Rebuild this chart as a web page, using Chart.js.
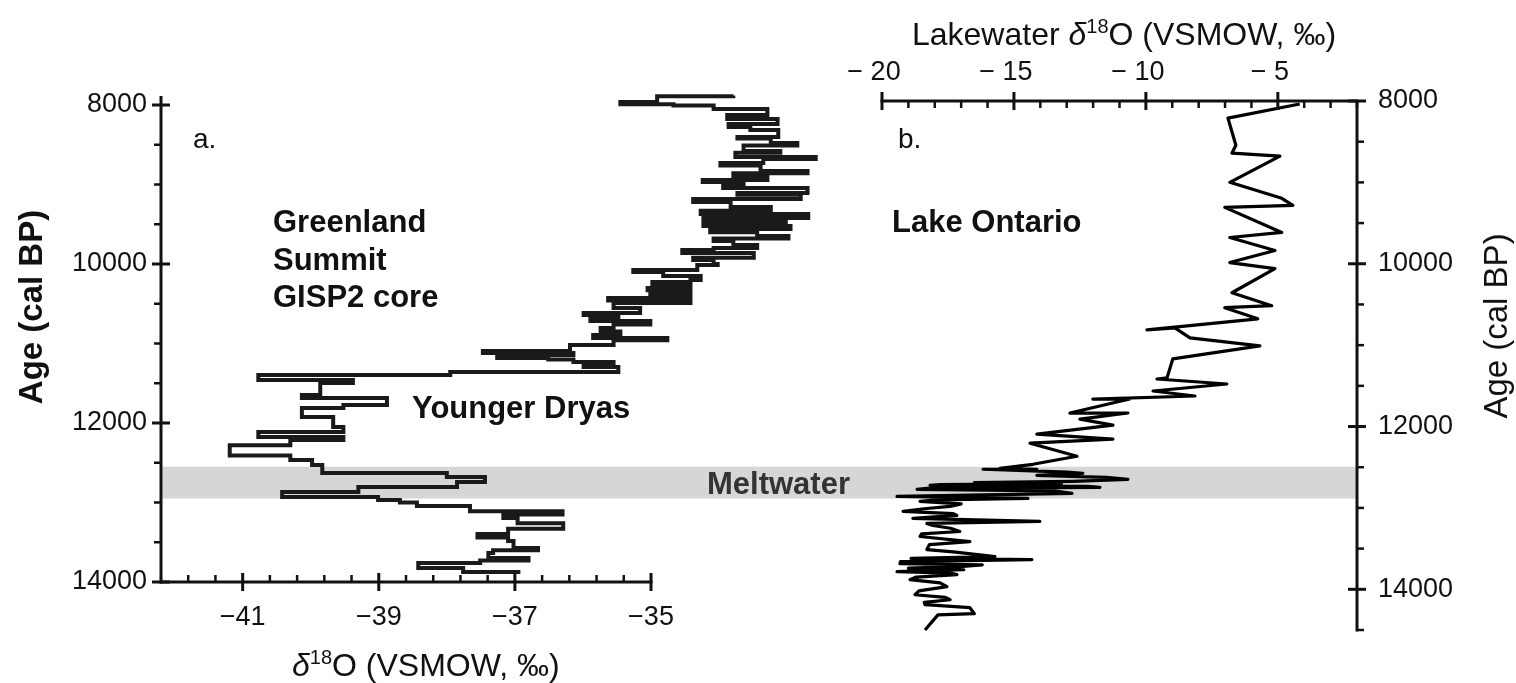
<!DOCTYPE html>
<html>
<head>
<meta charset="utf-8">
<script src="https://cdn.jsdelivr.net/npm/chart.js@4.4.1/dist/chart.umd.min.js"></script>
<style>
  html, body { margin: 0; padding: 0; background: #fff; }
  #wrap { position: relative; width: 1516px; height: 683px; overflow: hidden; }
  #wrapA { position: absolute; left: 0; top: 0; width: 1516px; height: 683px; }
  #wrapB { position: absolute; left: 820px; top: 0; width: 696px; height: 683px; }
</style>
</head>
<body>
<div id="wrap">
  <div id="wrapA"><canvas id="chartA" width="1516" height="683"></canvas></div>
  <div id="wrapB"><canvas id="chartB" width="696" height="683"></canvas></div>
</div>
<script>
// ---- data: GISP2 ice core (panel a), age in cal BP / d18O permil
const gispAge = [7880, 7890, 7962, 7990, 8005, 8050, 8126, 8176, 8240, 8277, 8314, 8403, 8420, 8478, 8510,
  8579, 8600, 8654, 8680, 8730, 8760, 8830, 8860, 8893, 8944, 8970, 9019, 9044, 9107, 9130, 9183, 9220, 9283,
  9330, 9371, 9420, 9447, 9490, 9522, 9560, 9600, 9648, 9680, 9711, 9761, 9800, 9824, 9862, 9920, 9950, 10000,
  10013, 10075, 10100, 10151, 10200, 10227, 10260, 10302, 10330, 10365, 10400, 10428, 10460, 10491, 10554,
  10617, 10640, 10667, 10717, 10760, 10805, 10850, 10893, 10931, 10960, 11019, 11095, 11120, 11145, 11183,
  11200, 11233, 11270, 11296, 11359, 11397, 11460, 11497, 11648, 11686, 11774, 11812, 11925, 12051, 12114,
  12177, 12214, 12280, 12410, 12466, 12529, 12629, 12680, 12743, 12806, 12868, 12931, 12969, 13000, 13044,
  13110, 13150, 13196, 13260, 13330, 13397, 13440, 13485, 13573, 13600, 13636, 13699, 13730, 13761, 13825, 13875];
const gispD18O = [-33.79, -34.91, -35.45, -34.67, -34.08, -33.29, -33.88, -33.14, -33.86, -33.54, -33.13, -33.73,
  -33.24, -32.85, -33.64, -33.10, -33.76, -32.58, -33.35, -33.98, -33.39, -32.70, -33.79, -33.29, -34.24, -33.64,
  -33.94, -32.70, -33.73, -32.80, -34.38, -33.83, -33.24, -34.27, -32.69, -34.23, -33.02, -34.23, -32.95, -34.13,
  -33.44, -32.98, -34.08, -33.79, -33.44, -34.08, -34.54, -33.49, -34.38, -34.08, -34.02, -34.32, -35.26, -34.82,
  -34.27, -34.42, -34.98, -34.42, -35.05, -34.42, -35.01, -34.42, -35.63, -34.42, -35.55, -35.16, -35.99, -35.48,
  -35.89, -35.01, -35.55, -35.74, -35.45, -35.85, -34.76, -35.55, -36.19, -37.47, -36.14, -37.26, -36.51, -36.14,
  -35.55, -35.99, -35.48, -37.95, -40.77, -39.38, -39.86, -40.13, -38.88, -39.52, -40.13, -39.67, -39.52, -40.77,
  -39.52, -40.30, -41.19, -40.30, -39.98, -39.83, -38.00, -37.44, -37.85, -39.30, -40.42, -39.01, -38.69, -38.44,
  -37.66, -36.30, -37.17, -36.96, -36.29, -37.10, -37.55, -37.10, -37.02, -36.66, -37.32, -37.39, -36.80, -37.51,
  -38.42, -37.76, -36.92];

// ---- data: Lake Ontario lakewater (panel b)
const ontAge = [8037, 8210, 8543, 8641, 8678, 8999, 9196, 9282, 9307, 9615, 9677, 9837, 9985, 10059, 10356, 10515,
  10540, 10676, 10812, 10787, 10910, 11009, 11169, 11403, 11416, 11477, 11563, 11625, 11662, 11662, 11834, 11834,
  11909, 11983, 12094, 12155, 12205, 12365, 12464, 12513, 12525, 12525, 12560, 12575, 12599, 12625, 12649, 12673,
  12690, 12700, 12712, 12722, 12735, 12747, 12760, 12772, 12790, 12821, 12858, 12883, 12900, 12920, 12950, 12981,
  13010, 13043, 13070, 13092, 13129, 13166, 13190, 13216, 13250, 13290, 13320, 13351, 13413, 13450, 13512, 13540,
  13598, 13620, 13635, 13660, 13684, 13700, 13721, 13740, 13760, 13783, 13800, 13820, 13850, 13882, 13920, 13968,
  14020, 14067, 14100, 14128, 14160, 14189, 14226, 14300, 14314, 14500];
const ontD18O = [-4.17, -6.89, -6.59, -6.74, -4.92, -6.82, -4.85, -4.43, -7.01, -4.85, -6.82, -5.11, -6.82, -5.11,
  -6.74, -5.23, -7.01, -5.76, -9.96, -8.90, -8.33, -5.68, -8.98, -9.20, -9.58, -6.93, -9.73, -8.14, -12.01, -10.61,
  -12.88, -10.68, -12.50, -11.25, -14.13, -11.25, -14.39, -12.61, -14.28, -15.53, -14.13, -16.17, -13.00, -12.39,
  -14.13, -11.50, -10.68, -12.77, -16.50, -13.20, -17.80, -18.18, -12.20, -11.74, -18.30, -18.67, -13.50, -12.80,
  -19.43, -14.47, -17.90, -18.56, -17.00, -17.42, -18.40, -19.20, -17.30, -17.16, -18.83, -14.02, -18.30, -18.07,
  -17.40, -17.05, -18.50, -18.56, -16.67, -18.20, -18.30, -17.30, -15.72, -18.90, -14.32, -19.30, -19.32, -16.20,
  -17.05, -19.00, -16.90, -19.43, -17.40, -17.16, -18.70, -18.94, -17.80, -17.54, -18.60, -18.75, -17.60, -17.42,
  -18.40, -18.37, -16.67, -16.50, -17.88, -18.37];

// ---- ticks and band
const ageLabelTicks = [8000, 10000, 12000, 14000];
const ageMinorTicksA = [8500, 9000, 9500, 10500, 11000, 11500, 12500, 13000, 13500];
const ageMinorTicksB = [8500, 9000, 9500, 10500, 11000, 11500, 12500, 13000, 13500, 14500];
const gispLabelTicks = [-41, -39, -37, -35];
const gispMinorTicks = [-41.8, -41.4, -40.6, -40.2, -39.8, -39.4, -38.6, -38.2, -37.8, -37.4, -36.6, -36.2, -35.8, -35.4];
const lakeLabelTicks = [-20, -15, -10, -5];
const lakeMinorTicks = [-19, -18, -17, -16, -14, -13, -12, -11, -9, -8, -7, -6, -4, -3, -2];
const meltwaterBand = [12550, 12950];

const FONT = '"Liberation Sans", Arial, Helvetica, sans-serif';
Chart.defaults.font.family = FONT;
Chart.defaults.color = '#111';

function pts(ages, vals) {
  return ages.map((a, i) => ({ x: vals[i], y: a }));
}

// axis lines + major/minor tick marks, placed through the chart scales
function drawAxis(chart, id, majors, minors) {
  const s = chart.scales[id], ctx = chart.ctx, a = chart.chartArea;
  ctx.save();
  ctx.strokeStyle = '#111';
  const seg = (x1, y1, x2, y2, w) => { ctx.lineWidth = w; ctx.beginPath(); ctx.moveTo(x1, y1); ctx.lineTo(x2, y2); ctx.stroke(); };
  if (s.isHorizontal()) {
    const y = s.position === 'bottom' ? a.bottom : a.top;
    const dir = s.position === 'bottom' ? -1 : 1;
    seg(a.left - 1.5, y, a.right + 1.5, y, 3);
    majors.forEach(v => { const x = s.getPixelForValue(v); seg(x, y - 9, x, y + 9, 3); });
    minors.forEach(v => { const x = s.getPixelForValue(v); seg(x, y, x, y + dir * 7, 2.5); });
  } else {
    const x = s.position === 'left' ? a.left : a.right;
    const dir = s.position === 'left' ? -1 : 1;
    const top = s.position === 'left' ? a.top - 9 : a.top;
    seg(x, top, x, a.bottom + 1.5, 3);
    majors.forEach(v => { const y = s.getPixelForValue(v); seg(x - 9, y, x + 9, y, 3); });
    minors.forEach(v => { const y = s.getPixelForValue(v); seg(x, y, x + dir * 7, y, 2.5); });
  }
  ctx.restore();
}

// text with a superscript part
function drawRich(ctx, parts, x, y, size, weight, align) {
  const fontOf = p => (p.italic ? 'italic ' : '') + weight + ' ' + (p.sup ? Math.round(size * 0.62) : size) + 'px ' + FONT;
  let total = 0;
  parts.forEach(p => { ctx.font = fontOf(p); total += ctx.measureText(p.t).width; });
  let cx = align === 'center' ? x - total / 2 : x;
  ctx.textAlign = 'left';
  ctx.textBaseline = 'alphabetic';
  parts.forEach(p => {
    ctx.font = fontOf(p);
    ctx.fillText(p.t, cx, y - (p.sup ? size * 0.36 : 0));
    cx += ctx.measureText(p.t).width;
  });
}

// grey meltwater band, drawn once across both panels (panel a canvas spans the page)
const bandPlugin = {
  id: 'band',
  beforeDatasetsDraw(chart, args, opts) {
    const y = chart.scales.y, ctx = chart.ctx, a = chart.chartArea;
    const y1 = y.getPixelForValue(meltwaterBand[0]), y2 = y.getPixelForValue(meltwaterBand[1]);
    ctx.save();
    ctx.fillStyle = '#d6d6d6';
    ctx.fillRect(a.left + 1.5, y1, opts.to - a.left - 1.5, y2 - y1);
    ctx.restore();
  }
};

const decoPlugin = {
  id: 'deco',
  afterDatasetsDraw(chart, args, opts) {
    opts.axes.forEach(ax => drawAxis(chart, ax[0], ax[1], ax[2]));
    const ctx = chart.ctx;
    ctx.save();
    opts.texts.forEach(t => {
      ctx.fillStyle = t.color || '#111';
      if (t.rotate) {
        ctx.save();
        ctx.translate(t.x, t.y);
        ctx.rotate(-Math.PI / 2);
        drawRich(ctx, t.parts, 0, t.size * 0.36, t.size, t.weight, 'center');
        ctx.restore();
      } else {
        drawRich(ctx, t.parts, t.x, t.y, t.size, t.weight, t.align || 'left');
      }
    });
    ctx.restore();
  }
};

const tickFont = { size: 27 };
const noGrid = { display: false, drawTicks: false };

// ---- panel a: GISP2
new Chart(document.getElementById('chartA'), {
  type: 'line',
  data: {
    datasets: [
      { data: pts(gispAge, gispD18O), stepped: 'after', borderColor: '#1a1a1a', borderWidth: 4,
        pointRadius: 0, clip: false, fill: false },
      { data: pts(gispAge, gispD18O), stepped: 'after', borderColor: '#cfcfcf', borderWidth: 1.4,
        pointRadius: 0, clip: false, fill: false }
    ]
  },
  options: {
    responsive: false,
    animation: false,
    events: [],
    layout: { padding: { left: 0, top: 105, right: 865, bottom: 0 } },
    plugins: {
      legend: { display: false },
      tooltip: { enabled: false },
      band: { to: 1355.5 },
      deco: {
        axes: [['x', gispLabelTicks, gispMinorTicks], ['y', ageLabelTicks, ageMinorTicksA]],
        texts: [
          { parts: [{ t: 'a.' }], x: 193, y: 148, size: 28, weight: 'normal' },
          { parts: [{ t: 'Greenland' }], x: 273, y: 232, size: 31, weight: 'bold' },
          { parts: [{ t: 'Summit' }], x: 273, y: 270, size: 31, weight: 'bold' },
          { parts: [{ t: 'GISP2 core' }], x: 273, y: 307, size: 31, weight: 'bold' },
          { parts: [{ t: 'Younger Dryas' }], x: 412, y: 418, size: 31, weight: 'bold' },
          { parts: [{ t: 'Meltwater' }], x: 707, y: 494, size: 31, weight: 'bold', color: '#333' },
          { parts: [{ t: 'δ', italic: true }, { t: '18', sup: true }, { t: 'O (VSMOW, ‰)' }],
            x: 292, y: 676, size: 32, weight: 'normal' },
          { parts: [{ t: 'Age (cal BP)' }], x: 30, y: 307, size: 33, weight: 'bold', rotate: true }
        ]
      }
    },
    scales: {
      x: {
        type: 'linear', position: 'bottom', min: -42.2, max: -35,
        grid: noGrid, border: { display: false },
        afterFit: s => { s.height = 101; },
        afterBuildTicks: s => { s.ticks = gispLabelTicks.map(v => ({ value: v })); },
        ticks: { font: tickFont, padding: 19, autoSkip: false, maxRotation: 0,
          callback: v => '\u2212' + Math.abs(v) }
      },
      y: {
        type: 'linear', position: 'left', min: 8000, max: 14000, reverse: true,
        grid: noGrid, border: { display: false },
        afterFit: s => { s.width = 161; },
        afterBuildTicks: s => { s.ticks = ageLabelTicks.map(v => ({ value: v })); },
        ticks: { font: tickFont, padding: 14, autoSkip: false, callback: v => String(v) }
      }
    }
  },
  plugins: [bandPlugin, decoPlugin]
});

// ---- panel b: Lake Ontario
new Chart(document.getElementById('chartB'), {
  type: 'line',
  data: {
    datasets: [
      { data: pts(ontAge, ontD18O), borderColor: '#000', borderWidth: 3.2, borderJoinStyle: 'round',
        pointRadius: 0, tension: 0, clip: false, fill: false }
    ]
  },
  options: {
    responsive: false,
    animation: false,
    events: [],
    layout: { padding: { left: 62, top: 0, right: 0, bottom: 53 } },
    plugins: {
      legend: { display: false },
      tooltip: { enabled: false },
      deco: {
        axes: [['x', lakeLabelTicks, lakeMinorTicks], ['y', ageLabelTicks, ageMinorTicksB]],
        texts: [
          { parts: [{ t: 'b.' }], x: 78, y: 148, size: 28, weight: 'normal' },
          { parts: [{ t: 'Lake Ontario' }], x: 72, y: 232, size: 31, weight: 'bold' },
          { parts: [{ t: 'Lakewater ' }, { t: 'δ', italic: true }, { t: '18', sup: true }, { t: 'O (VSMOW, ‰)' }],
            x: 304, y: 45, size: 32, weight: 'normal', align: 'center' },
          { parts: [{ t: 'Age (cal BP)' }], x: 675, y: 326, size: 33, weight: 'normal', rotate: true }
        ]
      }
    },
    scales: {
      x: {
        type: 'linear', position: 'top', min: -20, max: -2,
        grid: noGrid, border: { display: false },
        afterFit: s => { s.height = 101; },
        afterBuildTicks: s => { s.ticks = lakeLabelTicks.map(v => ({ value: v })); },
        ticks: { font: tickFont, padding: 12, labelOffset: -8, autoSkip: false, maxRotation: 0,
          callback: v => '\u2212 ' + Math.abs(v) }
      },
      y: {
        type: 'linear', position: 'right', min: 8000, max: 14500, reverse: true,
        grid: noGrid, border: { display: false },
        afterFit: s => { s.width = 159; },
        afterBuildTicks: s => { s.ticks = ageLabelTicks.map(v => ({ value: v })); },
        ticks: { font: tickFont, padding: 21, autoSkip: false, callback: v => String(v) }
      }
    }
  },
  plugins: [decoPlugin]
});
</script>
</body>
</html>
